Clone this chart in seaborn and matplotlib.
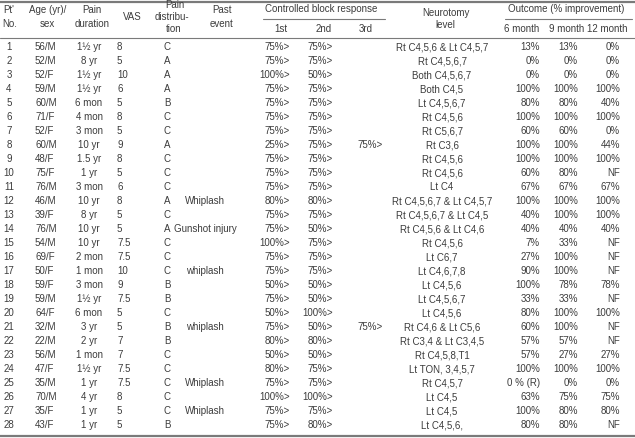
import matplotlib
matplotlib.use("Agg")
import matplotlib.pyplot as plt
import seaborn as sns

# table data
pt_no = [str(i) for i in range(1, 29)]
age_sex = ["56/M", "52/M", "52/F", "59/M", "60/M", "71/F", "52/F", "60/M", "48/F", "75/F",
           "76/M", "46/M", "39/F", "76/M", "54/M", "69/F", "50/F", "59/F", "59/M", "64/F",
           "32/M", "22/M", "56/M", "47/F", "35/M", "70/M", "35/F", "43/F"]
duration = ["1½ yr", "8 yr", "1½ yr", "1½ yr", "6 mon", "4 mon", "3 mon", "10 yr", "1.5 yr", "1 yr",
            "3 mon", "10 yr", "8 yr", "10 yr", "10 yr", "2 mon", "1 mon", "3 mon", "1½ yr", "6 mon",
            "3 yr", "2 yr", "1 mon", "1½ yr", "1 yr", "4 yr", "1 yr", "1 yr"]
vas = ["8", "5", "10", "6", "5", "8", "5", "9", "8", "5", "6", "8", "5", "5", "7.5", "7.5", "10",
       "9", "7.5", "5", "5", "7", "7", "7.5", "7.5", "8", "5", "5"]
distribution = list("CAAABCCACCCACACCCBBCBBCCCCCB")
past_event = ["", "", "", "", "", "", "", "", "", "", "", "Whiplash", "", "Gunshot injury", "", "",
              "whiplash", "", "", "", "whiplash", "", "", "", "Whiplash", "", "Whiplash", ""]
block_1st = [75, 75, 100, 75, 75, 75, 75, 25, 75, 75, 75, 80, 75, 75, 100, 75, 75, 50, 75, 50,
             75, 80, 50, 80, 75, 100, 75, 75]
block_2nd = [75, 75, 50, 75, 75, 75, 75, 75, 75, 75, 75, 80, 75, 50, 75, 75, 75, 50, 50, 100,
             50, 80, 50, 75, 75, 100, 75, 80]
block_3rd = {8: 75, 21: 75}
neurotomy = ["Rt C4,5,6 & Lt C4,5,7", "Rt C4,5,6,7", "Both C4,5,6,7", "Both C4,5", "Lt C4,5,6,7",
             "Rt C4,5,6", "Rt C5,6,7", "Rt C3,6", "Rt C4,5,6", "Rt C4,5,6", "Lt C4",
             "Rt C4,5,6,7 & Lt C4,5,7", "Rt C4,5,6,7 & Lt C4,5", "Rt C4,5,6 & Lt C4,6", "Rt C4,5,6",
             "Lt C6,7", "Lt C4,6,7,8", "Lt C4,5,6", "Lt C4,5,6,7", "Lt C4,5,6", "Rt C4,6 & Lt C5,6",
             "Rt C3,4 & Lt C3,4,5", "Rt C4,5,8,T1", "Lt TON, 3,4,5,7", "Rt C4,5,7", "Lt C4,5",
             "Lt C4,5", "Lt C4,5,6,"]
out_6 = ["13%", "0%", "0%", "100%", "80%", "100%", "60%", "100%", "100%", "60%", "67%", "100%",
         "40%", "40%", "7%", "27%", "90%", "100%", "33%", "80%", "60%", "57%", "57%", "100%",
         "0 % (R)", "63%", "100%", "80%"]
out_9 = ["13%", "0%", "0%", "100%", "80%", "100%", "60%", "100%", "100%", "80%", "67%", "100%",
         "100%", "40%", "33%", "100%", "100%", "78%", "33%", "100%", "100%", "57%", "27%", "100%",
         "0%", "75%", "80%", "80%"]
out_12 = ["0%", "0%", "0%", "100%", "40%", "100%", "0%", "44%", "100%", "NF", "67%", "100%",
          "100%", "40%", "NF", "NF", "NF", "78%", "NF", "100%", "NF", "NF", "27%", "100%",
          "0%", "75%", "80%", "NF"]

sns.set_theme(style="white")
plt.rcParams['font.family'] = ['Liberation Sans', 'DejaVu Sans']

fig = plt.figure(figsize=(6.35, 4.38), dpi=100)
ax = fig.add_axes([0, 0, 1, 1])
ax.set_xlim(0, 635)
ax.set_ylim(438, 0)
ax.axis("off")

txt = "#3c3c3c"
line_c = "#7a7a7a"
fs = 7.0


def put(x, y, s, ha="center"):
    ax.text(x, y, s, ha=ha, va="center", fontsize=fs, color=txt)


# rules
ax.plot([0, 635], [1.5, 1.5], color=line_c, lw=1.6, solid_capstyle="butt")
ax.plot([0, 635], [37.5, 37.5], color=line_c, lw=0.8)
ax.plot([0, 635], [435.5, 435.5], color=line_c, lw=1.6, solid_capstyle="butt")
ax.plot([263, 385], [19, 19], color=line_c, lw=0.8)
ax.plot([505, 632], [19, 19], color=line_c, lw=0.8)

# header
put(9, 10, "Pt'")
put(10, 24, "No.")
put(48, 10, "Age (yr)/")
put(47, 24, "sex")
put(92, 10, "Pain")
put(92, 24, "duration")
put(132, 17, "VAS")
put(175, 4.5, "Pain")
put(172, 16.5, "distribu-")
put(174, 28.5, "tion")
put(222, 10, "Past")
put(222, 24, "event")
put(321, 9, "Controlled block response")
put(281, 29, "1st")
put(324, 29, "2nd")
put(366, 29, "3rd")
put(446, 13, "Neurotomy")
put(445, 25, "level")
put(566, 9, "Outcome (% improvement)")
put(522, 29, "6 month")
put(567, 29, "9 month")
put(607, 29, "12 month")

# rows
y0, dy = 47.5, 14.0
for i in range(28):
    y = y0 + i * dy
    put(9, y, pt_no[i])
    put(35, y, age_sex[i], ha="left")
    put(89, y, duration[i])
    put(117, y, vas[i], ha="left")
    put(167, y, distribution[i])
    if past_event[i]:
        put(205, y, past_event[i])
    put(290, y, f"{block_1st[i]}%>", ha="right")
    put(333, y, f"{block_2nd[i]}%>", ha="right")
    if (i + 1) in block_3rd:
        put(383, y, f"{block_3rd[i + 1]}%>", ha="right")
    put(442, y, neurotomy[i])
    put(540, y, out_6[i], ha="right")
    put(578, y, out_9[i], ha="right")
    put(620, y, out_12[i], ha="right")

fig.savefig("out.png", dpi=100)
